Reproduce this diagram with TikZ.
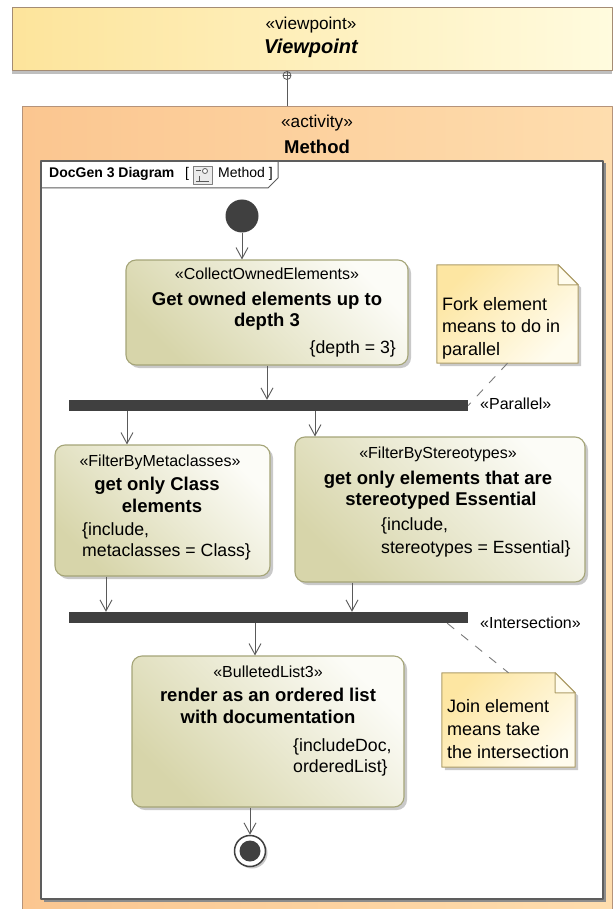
\documentclass[tikz,border=0pt]{standalone}
\usepackage{fontspec}
\setmainfont{Liberation Sans}
\usetikzlibrary{arrows.meta,shadows}
\definecolor{vpyellow}{HTML}{FDE49B}
\definecolor{vplight}{HTML}{FFFBDE}
\definecolor{vpborder}{HTML}{A48C74}
\definecolor{actorange}{HTML}{FBC690}
\definecolor{actlight}{HTML}{FEDDAE}
\definecolor{actborder}{HTML}{B5937A}
\definecolor{stepolive}{HTML}{D7D5AA}
\definecolor{steplight}{HTML}{FCFCF7}
\definecolor{stepborder}{HTML}{A5A578}
\definecolor{noteyellow}{HTML}{FDE6A2}
\definecolor{notelight}{HTML}{FFFCEE}
\definecolor{noteborder}{HTML}{AE9D68}
\definecolor{bardark}{HTML}{404040}
\definecolor{flowgray}{HTML}{5A5A5A}

\begin{document}
\begin{tikzpicture}[x=1pt, y=-1pt, line join=round, >={Straight Barb[length=11pt,width=12pt]},
	stepbox/.style={draw=stepborder, line width=1.1pt, rounded corners=10pt, top color=stepolive, bottom color=steplight, shading angle=135, inner sep=0, drop shadow={shadow xshift=3pt, shadow yshift=-3pt, fill=black!35, opacity=0.6}},
	notebox/.style={inner sep=0},
	notefill/.style={draw=noteborder, line width=1pt, left color=noteyellow, right color=notelight, shading angle=45, drop shadow={shadow xshift=3pt, shadow yshift=-3pt, fill=black!35, opacity=0.6}},
	syncbar/.style={fill=bardark, inner sep=0, minimum width=399, minimum height=11},
	flow/.style={->, draw=flowgray, line width=0.9pt},
	anchorline/.style={draw=flowgray!80, line width=0.9pt, dash pattern=on 9pt off 9pt},
	hstereo/.style={anchor=base, inner sep=0, font=\fontsize{17.2}{20}\selectfont},
	stereo/.style={anchor=base, inner sep=0, font=\fontsize{16}{19}\selectfont},
	steptitle/.style={anchor=base, inner sep=0, font=\bfseries\fontsize{18.5}{22}\selectfont},
	cons/.style={inner sep=0, font=\fontsize{17.7}{21}\selectfont},
	notetext/.style={anchor=base west, inner sep=0, font=\fontsize{18}{22}\selectfont},
	barlabel/.style={anchor=base west, inner sep=0, font=\fontsize{16}{19}\selectfont},
	tabtext/.style={anchor=base west, inner sep=0, font=\fontsize{14}{16}\selectfont}]
	\useasboundingbox (0,0) rectangle (613,909);
	\node[draw=vpborder, line width=1pt, left color=vpyellow, right color=vplight, minimum width=600, minimum height=63, inner sep=0, drop shadow={shadow xshift=0pt, shadow yshift=-3pt, fill=black!25, opacity=1}] (vp) at (312,39.5) {};
	\node[draw=actborder, line width=1pt, left color=actorange, right color=actlight, minimum width=590, minimum height=808, inner sep=0] (method) at (317,511) {};
	\node[hstereo] (vpst) at (311,29.6) {«viewpoint»};
	\node[anchor=base, inner sep=0, font=\bfseries\itshape\fontsize{20}{24}\selectfont] (vpname) at (311,54) {Viewpoint};
	\node[hstereo] (actst) at (317,127.6) {«activity»};
	\node[steptitle] (actname) at (317,153.6) {Method};
	\node[circle, draw=flowgray, line width=0.8pt, minimum size=8, inner sep=0] (own) at (287,75.5) {};
	\draw[flowgray, line width=0.8pt] (own.west) -- (own.east) (own.north) -- (own |- method.north);
	\draw[draw=bardark!85, line width=1.2pt, fill=white, drop shadow={shadow xshift=2.5pt, shadow yshift=-2.5pt, fill=black!45, opacity=1}] (41,161) rectangle (603,899);
	\draw[draw=bardark!85, line width=1pt] (41,188) -- (268,188) -- (278,178) -- (278,161);
	\node[tabtext, font=\bfseries\fontsize{14}{16}\selectfont] (tabname) at (49,177.6) {DocGen 3 Diagram};
	\node[tabtext] (tabopen) at (185,177.6) {[};
	\draw[gray, fill=black!8] (193,166) rectangle (212,184);
	\draw[gray!70!black, line width=0.8pt] (196,170) -- (201,170) (199,176) -- (199,181) (196,181) -- (209,181);
	\draw[gray!70!black, fill=white, line width=0.8pt] (205,171) circle (2.5);
	\node[tabtext] (tabdiag) at (218,177.6) {Method ]};
	\node[circle, fill=bardark, minimum size=33, inner sep=0] (init) at (242,216) {};
	\node[stepbox, minimum width=282, minimum height=105] (act1) at (267,312.5) {};
	\node[stepbox, minimum width=215, minimum height=131] (act2) at (162.5,510.5) {};
	\node[stepbox, minimum width=290, minimum height=145] (act3) at (440,509.5) {};
	\node[stepbox, minimum width=272, minimum height=151] (act4) at (268,731.5) {};
	\node[syncbar] (fork) at (268.5,405.5) {};
	\node[syncbar] (join) at (268.5,617.5) {};
	\node[circle, draw=bardark, line width=1.5pt, fill=white, minimum size=31, inner sep=0, drop shadow={shadow xshift=2pt, shadow yshift=-2pt, fill=black!35, opacity=0.6}] (final) at (250,851) {};
	\fill[bardark] (final) circle (10.5);
	\node[notebox, minimum width=141, minimum height=98] (note1) at (507.5,314) {};
	\node[notebox, minimum width=133, minimum height=94] (note2) at (508.5,720) {};
	\foreach \n in {note1,note2}{
		\shade[notefill] (\n.north west) -- ([xshift=-20pt]\n.north east) -- ([yshift=-20pt]\n.north east) -- (\n.south east) -- (\n.south west) -- cycle;
		\draw[noteborder, line width=1pt, fill=notelight] ([xshift=-20pt]\n.north east) -- ([xshift=-20pt,yshift=-20pt]\n.north east) -- ([yshift=-20pt]\n.north east) -- cycle;
	}
	\node[stereo] (s1) at (267,279.8) {«CollectOwnedElements»};
	\node[steptitle] (t1a) at (267,305.2) {Get owned elements up to};
	\node[steptitle] (t1b) at (267,326.2) {depth 3};
	\node[cons, anchor=base east] (c1) at (396,353.6) {\{depth = 3\}};
	\node[stereo] (s2) at (160,466.8) {«FilterByMetaclasses»};
	\node[steptitle] (t2a) at (157,490.2) {get only Class};
	\node[steptitle] (t2b) at (162,512.2) {elements};
	\node[cons, anchor=base west] (c2a) at (82,535.6) {\{include,};
	\node[cons, anchor=base west] (c2b) at (82,556.6) {metaclasses = Class\}};
	\node[stereo] (s3) at (438,458.8) {«FilterByStereotypes»};
	\node[steptitle] (t3a) at (438,484.2) {get only elements that are};
	\node[steptitle] (t3b) at (441,505.2) {stereotyped Essential};
	\node[cons, anchor=base west] (c3a) at (381,530.6) {\{include,};
	\node[cons, anchor=base west] (c3b) at (381,553.6) {stereotypes = Essential\}};
	\node[stereo] (s4) at (268,677.8) {«BulletedList3»};
	\node[steptitle] (t4a) at (268,701.2) {render as an ordered list};
	\node[steptitle] (t4b) at (268,723.2) {with documentation};
	\node[cons, anchor=base west] (c4a) at (293,751.6) {\{includeDoc,};
	\node[cons, anchor=base west] (c4b) at (293,772.6) {orderedList\}};
	\node[notetext] (n1a) at (442,310.4) {Fork element};
	\node[notetext] (n1b) at (442,332.4) {means to do in};
	\node[notetext] (n1c) at (442,355.4) {parallel};
	\node[notetext] (n2a) at (447,712.4) {Join element};
	\node[notetext] (n2b) at (447,735.4) {means take};
	\node[notetext] (n2c) at (447,758.4) {the intersection};
	\node[barlabel] (forklab) at (480,409.3) {«Parallel»};
	\node[barlabel] (joinlab) at (480,628) {«Intersection»};
	\path (127,0) coordinate (x2in) (315,0) coordinate (x3in) (106,0) coordinate (x2out) (352,0) coordinate (x3out) (255,0) coordinate (x4in);
	\draw[flow] (init.south) -- (init.south |- act1.north);
	\draw[flow] (act1.south) -- (act1.south |- fork.north);
	\draw[flow] (fork.south -| x2in) -- (act2.north -| x2in);
	\draw[flow] (fork.south -| x3in) -- (act3.north -| x3in);
	\draw[flow] (act2.south -| x2out) -- (join.north -| x2out);
	\draw[flow] (act3.south -| x3out) -- (join.north -| x3out);
	\draw[flow] (join.south -| x4in) -- (act4.north -| x4in);
	\draw[flow] (act4.south -| final.north) -- (final.north);
	\draw[anchorline] (note1.south) -- (fork.east);
	\draw[anchorline] ([xshift=-21pt]join.south east) -- (note2.north);
\end{tikzpicture}
\end{document}
